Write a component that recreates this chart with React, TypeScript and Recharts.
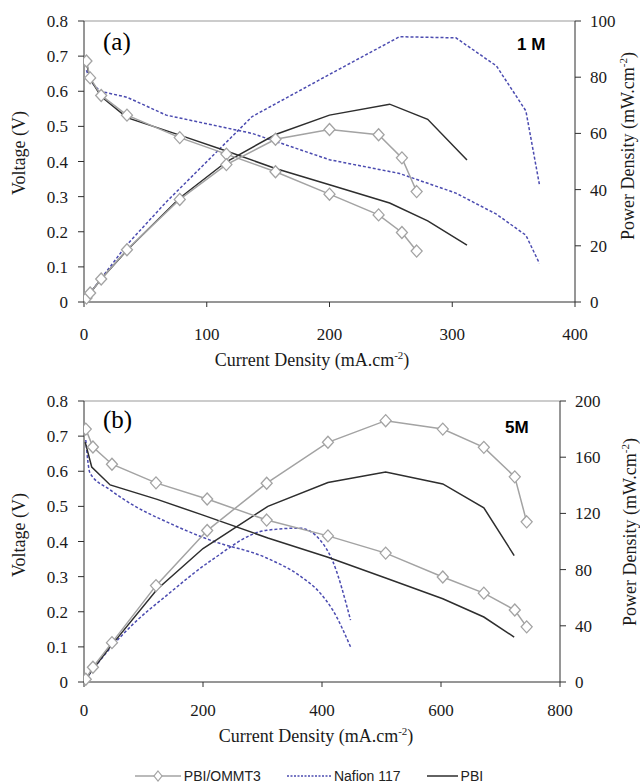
import React from 'react';
import { LineChart, Line, XAxis, YAxis, ReferenceLine } from 'recharts';

// ---- panel (a), 1 M ----
const currentA_OMMT = [2, 5, 14, 35, 78, 116, 156, 200, 240, 259, 271];
const voltageA_OMMT = [0.686, 0.638, 0.588, 0.532, 0.468, 0.421, 0.371, 0.307, 0.248, 0.198, 0.145];
const powerA_OMMT = [1.4, 3.2, 8.2, 18.6, 36.5, 48.9, 57.9, 61.4, 59.5, 51.3, 39.3];

const currentA_Nafion = [2, 5, 13, 35, 67, 137, 200, 257, 303, 336, 360, 371];
const voltageA_Nafion = [0.66, 0.63, 0.6, 0.583, 0.532, 0.48, 0.405, 0.366, 0.31, 0.25, 0.19, 0.11];
const powerA_Nafion = [1.3, 3.2, 7.8, 20.4, 35.6, 66, 81, 94.4, 94, 84, 68, 41.8];

const currentA_PBI = [2, 5, 14, 35, 78, 116, 156, 200, 249, 280, 312];
const voltageA_PBI = [0.68, 0.635, 0.585, 0.525, 0.475, 0.43, 0.38, 0.334, 0.282, 0.231, 0.162];
const powerA_PBI = [1.4, 3.2, 8.2, 18.4, 37, 49.9, 59.6, 66.5, 70.4, 65, 50.5];

// ---- panel (b), 5M ----
const currentB_OMMT = [3, 15, 47, 121, 207, 307, 410, 507, 603, 672, 724, 744];
const voltageB_OMMT = [0.72, 0.669, 0.62, 0.567, 0.521, 0.461, 0.416, 0.367, 0.299, 0.253, 0.205, 0.157];
const powerB_OMMT = [2, 10.5, 28, 68.6, 107.8, 141.5, 170.6, 186, 180, 167, 146, 114];

const currentB_Nafion = [3, 10, 44, 82, 140, 212, 307, 363, 397, 418, 448];
const voltageB_Nafion = [0.689, 0.595, 0.547, 0.504, 0.455, 0.404, 0.353, 0.302, 0.253, 0.205, 0.1];
const powerB_Nafion = [2, 6, 24, 41, 62, 86, 108, 109.5, 101, 86, 44];

const currentB_PBI = [2, 13, 44, 123, 200, 309, 410, 507, 603, 672, 723];
const voltageB_PBI = [0.683, 0.612, 0.561, 0.52, 0.475, 0.41, 0.355, 0.296, 0.237, 0.185, 0.128];
const powerB_PBI = [1.4, 8, 25, 66, 95, 125, 142, 149.5, 141, 124, 90];

const voltTicks = [0, 0.1, 0.2, 0.3, 0.4, 0.5, 0.6, 0.7, 0.8];
const ticksA_x = [0, 100, 200, 300, 400];
const ticksA_p = [0, 20, 40, 60, 80, 100];
const ticksB_x = [0, 200, 400, 600, 800];
const ticksB_p = [0, 40, 80, 120, 160, 200];

const GRAY = '#a3a3a3';
const BLUE = '#4b4bb0';
const DARK = '#2e2e2e';
const serif = 'Liberation Serif';
const sans = 'Liberation Sans';

const rows = (xs: number[], ys: number[]) => xs.map((x, i) => ({ x, y: ys[i] }));

const Diamond = (props: any) => {
  const { cx, cy, index } = props;
  if (cx == null || cy == null) return null;
  return (
    <path
      key={'d' + index}
      d={`M${cx},${cy - 6}L${cx + 5.5},${cy}L${cx},${cy + 6}L${cx - 5.5},${cy}Z`}
      fill="#fff"
      stroke={GRAY}
      strokeWidth={1.3}
    />
  );
};

const tickStyle = { fill: '#1a1a1a', fontSize: 17, fontFamily: serif };

type Series = { cur: number[]; v: number[]; p: number[] };

const Panel = ({ xMax, xTicks, pMax, pTicks, rightW, xMargin, ommt, nafion, pbi, smoothNafion }: any) => {
  const curve = smoothNafion ? 'monotone' : 'linear';
  const lines = (s: Series, key: string, stroke: string, dash?: string, dot?: any) => [
    <Line key={key + 'v'} yAxisId="v" data={rows(s.cur, s.v)} dataKey="y" type={dash ? curve : 'linear'}
      stroke={stroke} strokeWidth={1.5} strokeDasharray={dash} dot={dot || false} isAnimationActive={false} />,
    <Line key={key + 'p'} yAxisId="p" data={rows(s.cur, s.p)} dataKey="y" type={dash ? curve : 'linear'}
      stroke={stroke} strokeWidth={1.5} strokeDasharray={dash} dot={dot || false} isAnimationActive={false} />,
  ];
  return (
    <LineChart width={640} height={362} margin={{ top: 21, right: 0, bottom: 0, left: 0 }}>
      <XAxis dataKey="x" type="number" domain={[0, xMax]} ticks={xTicks} height={60}
        tick={tickStyle} tickSize={5} tickMargin={xMargin} stroke={DARK} allowDataOverflow />
      <YAxis yAxisId="v" domain={[0, 0.8]} ticks={voltTicks} width={84}
        tick={tickStyle} tickSize={6} tickMargin={10} stroke={DARK} />
      <YAxis yAxisId="p" orientation="right" domain={[0, pMax]} ticks={pTicks} width={rightW}
        tick={tickStyle} tickSize={6} tickMargin={9} stroke={DARK} />
      <ReferenceLine yAxisId="v" y={0.8} stroke="#9a9a9a" strokeWidth={1.2} />
      {lines(nafion, 'n', BLUE, '3 2')}
      {lines(pbi, 'b', DARK)}
      {lines(ommt, 'o', GRAY, undefined, Diamond)}
    </LineChart>
  );
};

const abs = (left: number, top: number, extra: React.CSSProperties = {}): React.CSSProperties => ({
  position: 'absolute', left, top, whiteSpace: 'nowrap', ...extra,
});

const VTitle = ({ x, y, children }: any) => (
  <div style={abs(x, y, { transform: 'translate(-50%, -50%) rotate(-90deg)', fontFamily: serif, fontSize: 18, color: '#1a1a1a' })}>
    {children}
  </div>
);

const HTitle = ({ x, y }: any) => (
  <div style={abs(x, y, { transform: 'translate(-50%, -50%)', fontFamily: serif, fontSize: 18, color: '#1a1a1a' })}>
    Current Density (mA.cm<sup style={{ fontSize: 11 }}>-2</sup>)
  </div>
);

const PowerTitle = () => (
  <>Power Density (mW.cm<sup style={{ fontSize: 11 }}>-2</sup>)</>
);

const LegendItem = ({ label, color, dash, diamond, w }: any) => (
  <div style={{ display: 'flex', alignItems: 'center', marginRight: 26 }}>
    <svg width={w} height={14}>
      <line x1={0} y1={7} x2={w} y2={7} stroke={color} strokeWidth={1.5} strokeDasharray={dash} />
      {diamond && <path d={`M${w / 2},2L${w / 2 + 4},7L${w / 2},12L${w / 2 - 4},7Z`} fill="#fff" stroke={color} strokeWidth={1.2} />}
    </svg>
    <span style={{ marginLeft: 3, fontFamily: sans, fontSize: 14, color: '#222' }}>{label}</span>
  </div>
);

export default function App() {
  return (
    <div style={{ position: 'absolute', left: 0, top: 0, width: 640, height: 784, background: '#fff' }}>
      <div style={abs(0, 0)}>
        <Panel xMax={400} xTicks={ticksA_x} pMax={100} pTicks={ticksA_p} rightW={65} xMargin={21}
          ommt={{ cur: currentA_OMMT, v: voltageA_OMMT, p: powerA_OMMT }}
          nafion={{ cur: currentA_Nafion, v: voltageA_Nafion, p: powerA_Nafion }}
          pbi={{ cur: currentA_PBI, v: voltageA_PBI, p: powerA_PBI }} />
      </div>
      <div style={abs(0, 380)}>
        <Panel xMax={800} xTicks={ticksB_x} pMax={200} pTicks={ticksB_p} rightW={80} xMargin={17} smoothNafion
          ommt={{ cur: currentB_OMMT, v: voltageB_OMMT, p: powerB_OMMT }}
          nafion={{ cur: currentB_Nafion, v: voltageB_Nafion, p: powerB_Nafion }}
          pbi={{ cur: currentB_PBI, v: voltageB_PBI, p: powerB_PBI }} />
      </div>

      <div style={abs(103, 42, { transform: 'translateY(-50%)', fontFamily: serif, fontSize: 25 })}>(a)</div>
      <div style={abs(517, 45, { transform: 'translateY(-50%)', fontFamily: sans, fontSize: 17, fontWeight: 'bold' })}>1 M</div>
      <div style={abs(103, 420, { transform: 'translateY(-50%)', fontFamily: serif, fontSize: 25 })}>(b)</div>
      <div style={abs(505, 428, { transform: 'translateY(-50%)', fontFamily: sans, fontSize: 17, fontWeight: 'bold' })}>5M</div>

      <VTitle x={19} y={153}>Voltage (V)</VTitle>
      <VTitle x={628} y={146}><PowerTitle /></VTitle>
      <HTitle x={312} y={360} />

      <VTitle x={19} y={535}>Voltage (V)</VTitle>
      <VTitle x={630} y={532}><PowerTitle /></VTitle>
      <HTitle x={316} y={736} />

      <div style={abs(0, 768, { width: 640, display: 'flex', justifyContent: 'center', paddingLeft: 4, boxSizing: 'border-box' })}>
        <LegendItem label="PBI/OMMT3" color={GRAY} diamond w={46} />
        <LegendItem label="Nafion 117" color={BLUE} dash="2 1.5" w={44} />
        <LegendItem label="PBI" color={DARK} w={31} />
      </div>
    </div>
  );
}
